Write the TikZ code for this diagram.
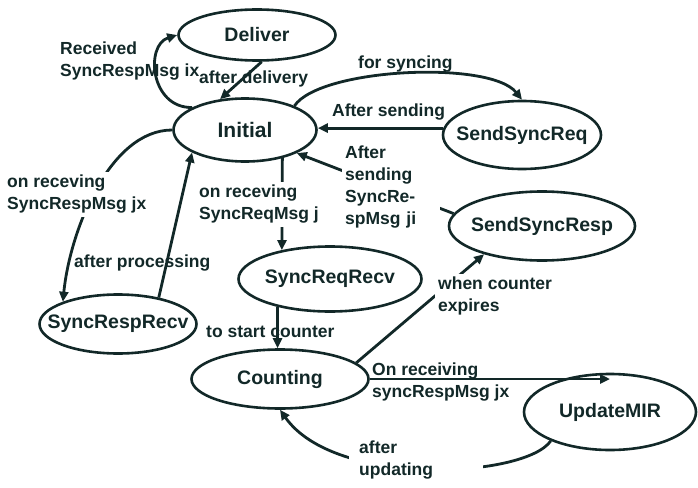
\documentclass[tikz,border=0pt]{standalone}
\usepackage{fontspec}
\setmainfont{Liberation Sans}
\usetikzlibrary{shapes.geometric,arrows.meta,calc}
\definecolor{ink}{RGB}{18,40,40}
\begin{document}
\begin{tikzpicture}[x=1pt,y=-1pt,
 st/.style={ellipse, draw=ink, line width=2.6pt, inner sep=-30pt, text=ink, font=\fontsize{19.5}{22}\selectfont\bfseries},
 lab/.style={text=ink, inner sep=0pt, align=left, font=\fontsize{17.5}{22}\selectfont\bfseries},
 labw/.style={lab, fill=white, inner sep=3pt},
 arr/.style={draw=ink, line width=2.8pt, -{Triangle[length=10pt,width=9pt]}}]
\useasboundingbox (0,0) rectangle (698,487);
% states
\node[st, minimum width=157pt, minimum height=51pt] (deliver) at (257,35) {Deliver};
\node[st, minimum width=143pt, minimum height=63pt, font=\fontsize{21}{24}\selectfont\bfseries] (init) at (245,130) {Initial};
\node[st, minimum width=158pt, minimum height=68pt] (ssreq) at (522,135) {SendSyncReq};
\node[st, minimum width=186pt, minimum height=69pt] (ssresp) at (542,226) {SendSyncResp};
\node[st, minimum width=183pt, minimum height=65pt] (sreqrecv) at (330,279) {SyncReqRecv};
\node[st, minimum width=157pt, minimum height=59pt] (srespr) at (118,324) {SyncRespRecv};
\node[st, minimum width=177pt, minimum height=59pt] (count) at (280,379) {Counting};
\node[st, minimum width=172pt, minimum height=76pt] (upd) at (610,412) {UpdateMIR};
% plain labels
\node[lab, anchor=north west] (l1) at (60,42) {Received\\SyncRespMsg ix};
\node[lab, anchor=base west] (l2) at (199,83) {after delivery};
\node[lab, anchor=base west] (l3) at (358,68) {for syncing};
\node[lab, anchor=base west] (l4) at (332,116) {After sending};
\node[lab, anchor=base west] (l8) at (74,267) {after processing};
\node[lab, anchor=base west] (l9) at (206,337) {to start counter};
\node[lab, anchor=north west] (l11) at (372,363) {On receiving\\syncRespMsg jx};
% connectors
\draw[arr] (init.157) .. controls (150,108) and (145,45) .. (deliver.west);
\draw[arr] (deliver.280) -- (init.129);
\draw[arr] (init.26) .. controls (320,68) and (490,60) .. (ssreq.north);
\draw[arr] (ssreq.175) -- (init.east |- ssreq.175);
\draw[arr] (ssresp.172) -- (init.-24);
\draw[arr] (init.-37) -- (sreqrecv.149);
\draw[arr] (srespr.33) -- (init.203);
\draw[arr] (init.west) .. controls (110,130) and (70,230) .. (srespr.158);
\draw[arr] (sreqrecv.208) -- (sreqrecv.208 |- count.north);
\draw[arr] (count.12) -- (ssresp.206);
\draw[arr] (count.east) -- (count.east -| upd.north);
\draw[arr] (upd.206) .. controls (525,478) and (335,488) .. (count.south);
% labels that cover their connectors
\node[labw, anchor=north west, text width=92pt] (l5) at (342,143) {After\\sending\\SyncRe-\\spMsg ji};
\node[labw, anchor=north west] (l6) at (4,172) {on receving\\SyncRespMsg jx};
\node[labw, anchor=north west] (l7) at (196,182) {on receving\\SyncReqMsg j};
\node[labw, anchor=north west] (l10) at (435,274) {when counter\\expires};
\node[labw, anchor=north west, inner xsep=10pt, text width=114pt] (l13) at (349,438) {after\\updating};
\end{tikzpicture}
\end{document}
